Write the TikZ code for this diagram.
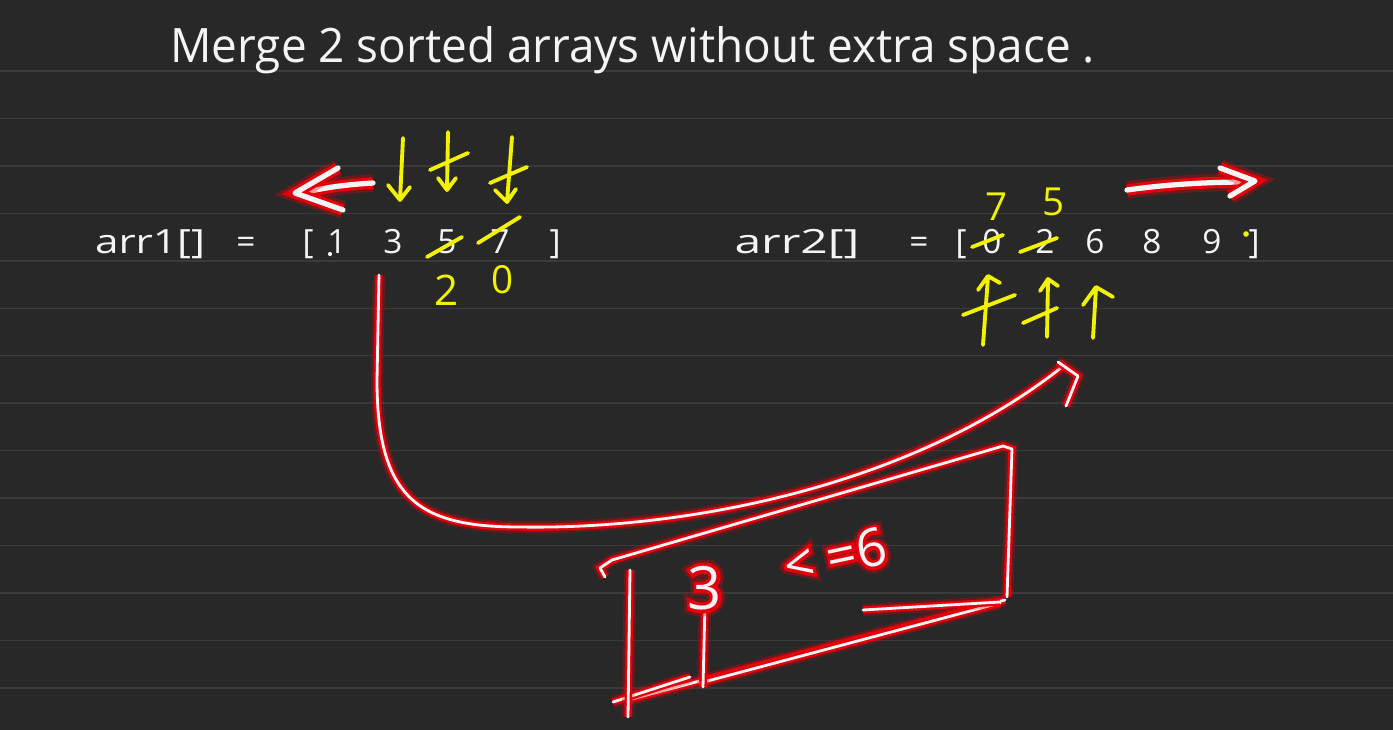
\documentclass[tikz,border=0pt]{standalone}
\usepackage{fontspec}
\setmainfont{Open Sans}
\newfontfamily\glowinner{Open Sans}[FakeBold=12]
\newfontfamily\glowouter{Open Sans}[FakeBold=22]
\usepackage{graphicx}
\definecolor{BoardInk}{HTML}{282828}
\definecolor{BoardRule}{HTML}{3A3A3A}
\definecolor{ChalkWhite}{HTML}{F4F4F4}
\definecolor{MarkerYellow}{HTML}{F2F200}
\definecolor{GlowRed}{HTML}{E3000B}
\newcommand{\glowlabel}[5]{%
  \node[#3,text=GlowRed,opacity=.35,font=\glowouter#4] (#1-outer) at #2 {#5};
  \node[#3,text=GlowRed,font=\glowinner#4] (#1-inner) at #2 {#5};
  \node[#3,text=ChalkWhite,font=\normalfont#4] (#1) at #2 {#5};
}
\begin{document}
\begin{tikzpicture}[
    x=0.02cm,y=-0.02cm,
    hand/.style={text=ChalkWhite,inner sep=0pt,anchor=base,font=\fontsize{19}{22}\selectfont},
    yhand/.style={hand,text=MarkerYellow,font=\fontsize{22}{26}\selectfont},
    ruling/.style={BoardRule,line width=0.8pt},
    yink/.style={MarkerYellow,line width=2.2pt,line cap=round,line join=round},
    glow/.style={ChalkWhite,line width=3pt,line cap=round,line join=round,
      preaction={draw=GlowRed,line width=10pt,opacity=.35},
      preaction={draw=GlowRed,line width=6.5pt}},
    thinglow/.style={ChalkWhite,line width=1.6pt,line cap=round,line join=round,
      preaction={draw=GlowRed,line width=7pt,opacity=.3},
      preaction={draw=GlowRed,line width=4.2pt}}
  ]
    \useasboundingbox (0,0) rectangle (1393,730);
    \fill[BoardInk] (0,0) rectangle (1393,730);
    \foreach \i in {0,...,13}
      \draw[ruling] (0,{71+47.45*\i}) -- (1393,{71+47.45*\i});

    \node[hand,anchor=base west,font=\fontsize{27}{30}\selectfont] (title) at (170,62)
      {\resizebox{18.5cm}{\height}{Merge 2 sorted arrays without extra space .}};

    % arr1
    \node[hand] (arrA) at (150,253) {\resizebox{2.2cm}{\height}{arr1[]}};
    \node[hand] (eqA) at (246,253) {=};
    \node[hand] (openA) at (308,253) {[};
    \fill[ChalkWhite] (330,254) circle (1.2pt);
    \node[hand] (a1) at (337,253) {1};
    \node[hand] (a3) at (393,253) {3};
    \node[hand] (a5) at (447,253) {5};
    \node[hand] (a7) at (500,253) {7};
    \node[hand] (closeA) at (555,253) {]};
    \draw[yink] (427,257) -- (462,237);
    \draw[yink] (478,243) -- (520,217);
    \node[yhand,font=\fontsize{24}{28}\selectfont] (n2) at (447,305) {2};
    \node[yhand] (n0) at (503,293) {0};
    \draw[yink] (403,138) -- (400,200) (388,185) -- (400,200) -- (410,187);
    \draw[yink] (448,132) -- (447,190) (438,178) -- (447,190) -- (456,178) (430,170) -- (468,153);
    \draw[yink] (512,137) -- (507,202) (495,190) -- (507,202) -- (516,189) (490,183) -- (527,167);
    \draw[glow] (373,183) .. controls (340,185) and (315,189) .. (297,195);
    \draw[glow] (338,168) -- (295,193) -- (343,210);

    % arr2
    \node[hand] (arrB) at (797,253) {\resizebox{2.5cm}{\height}{arr2[]}};
    \node[hand] (eqB) at (919,253) {=};
    \node[hand] (openB) at (961,253) {[};
    \node[hand] (b0) at (992,253) {0};
    \node[hand] (b2) at (1045,253) {2};
    \node[hand] (b6) at (1095,253) {6};
    \node[hand] (b8) at (1152,253) {8};
    \node[hand] (b9) at (1212,253) {9};
    \fill[MarkerYellow] (1246,234) circle (1.6pt);
    \node[hand] (closeB) at (1254,253) {]};
    \draw[yink] (972,247) -- (1003,235);
    \draw[yink] (1020,252) -- (1057,238);
    \node[yhand] (n7) at (997,220) {7};
    \node[yhand] (n5) at (1054,215) {5};
    \draw[yink] (983,345) -- (988,277) (978,290) -- (988,276) -- (1000,283) (963,315) -- (1015,295);
    \draw[yink] (1047,337) -- (1048,280) (1040,291) -- (1048,279) -- (1058,286) (1023,323) -- (1057,308);
    \draw[yink] (1093,338) -- (1096,288) (1083,305) -- (1096,287) -- (1113,297);
    \draw[glow] (1127,190) .. controls (1170,184) and (1210,182) .. (1250,182);
    \draw[glow] (1220,168) -- (1255,181) -- (1230,196);

    % swap curve
    \draw[thinglow] (379,275) -- (377,380) .. controls (377,500) and (420,527) .. (520,527)
      .. controls (700,530) and (920,480) .. (1062,367);
    \draw[thinglow] (1058,362) -- (1078,376) -- (1066,406);

    % box
    \draw[thinglow] (605,577) -- (600,568) -- (612,560) -- (1003,446) -- (1012,449) -- (1007,597);
    \draw[thinglow] (1005,600) -- (628,700);
    \draw[thinglow] (1000,603) -- (700,683);
    \draw[thinglow] (863,610) -- (1000,602);
    \draw[thinglow] (613,702) -- (690,677);
    \draw[thinglow] (630,570) -- (628,717);
    \draw[thinglow] (705,603) -- (703,687);
    \glowlabel{l3}{(705,588)}{inner sep=0pt}{\fontsize{34}{38}\selectfont}{3}
    \glowlabel{lt6}{(835,556)}{inner sep=0pt,rotate=12}{\fontsize{30}{34}\selectfont}{< =6}
  \end{tikzpicture}
\end{document}
